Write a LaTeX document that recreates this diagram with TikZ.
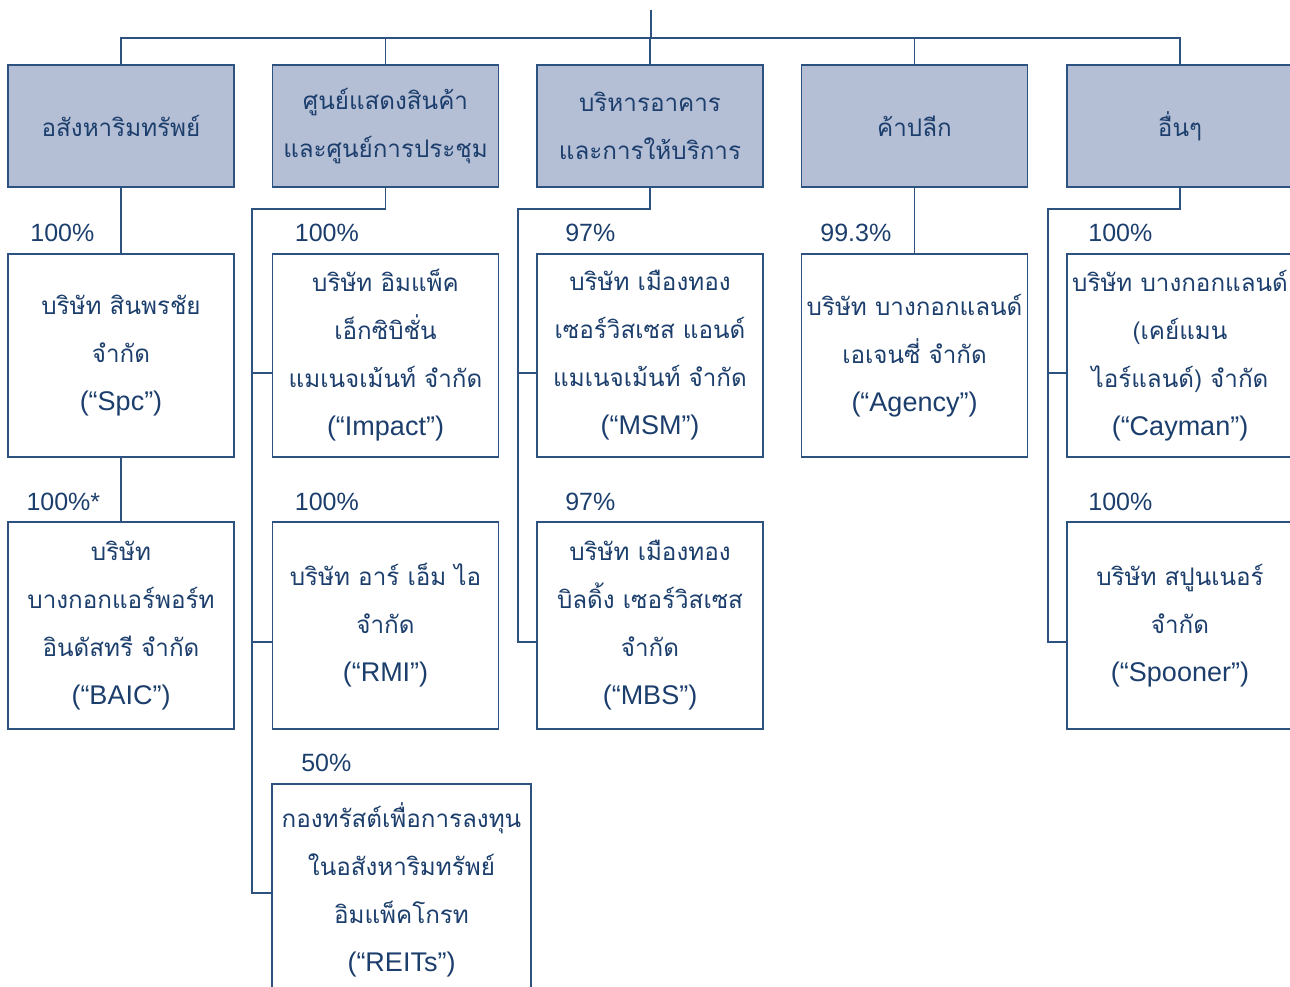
\documentclass[tikz,border=0pt]{standalone}
\usepackage{fontspec}
\setmainfont{Liberation Sans}
\newfontfamily\thaifont[Script=Thai]{Loma}
\usetikzlibrary{positioning}
\definecolor{navy}{RGB}{28,62,108}
\definecolor{linecol}{RGB}{45,82,128}
\definecolor{headfill}{RGB}{180,191,214}
\newcommand{\en}[1]{{\normalfont\fontsize{27}{48}\selectfont #1}}

\begin{document}
\begin{tikzpicture}[x=1pt,y=-1pt,
    every node/.style={text=navy},
    box/.style={draw=linecol, line width=1.3pt, rectangle, minimum width=226pt,
      align=center, inner sep=0pt, font=\thaifont\fontsize{24.2}{48}\selectfont},
    head/.style={box, fill=headfill, minimum height=122pt},
    pct/.style={inner sep=0pt, font=\fontsize{25}{28}\selectfont},
    link/.style={draw=linecol, line width=1.3pt}]
  \useasboundingbox (0,0) rectangle (1290,986);

  % Header row (business groups)
  \node[head] (hRealEstate) at (121,126) {อสังหาริมทรัพย์};
  \node[head] (hExhibit) at (385.5,126) {ศูนย์แสดงสินค้า\\และศูนย์การประชุม};
  \node[head] (hService) at (650,126) {บริหารอาคาร\\และการให้บริการ};
  \node[head] (hRetail) at (914.5,126) {ค้าปลีก};
  \node[head] (hOther) at (1180,126) {อื่นๆ};

  % First row of companies
  \node[box, minimum height=203pt] (spc) at (121,355.5) {บริษัท สินพรชัย\\จำกัด\\\en{(“Spc”)}};
  \node[box, minimum height=203pt] (impact) at (385.5,355.5) {บริษัท อิมแพ็ค\\เอ็กซิบิชั่น\\แมเนจเม้นท์ จำกัด\\\en{(“Impact”)}};
  \node[box, minimum height=203pt] (msm) at (650,355.5) {บริษัท เมืองทอง\\เซอร์วิสเซส แอนด์\\แมเนจเม้นท์ จำกัด\\\en{(“MSM”)}};
  \node[box, minimum height=203pt] (agency) at (914.5,355.5) {บริษัท บางกอกแลนด์\\เอเจนซี่ จำกัด\\\en{(“Agency”)}};
  \node[box, minimum height=203pt] (cayman) at (1180,355.5) {บริษัท บางกอกแลนด์\\(เคย์แมน\\ไอร์แลนด์) จำกัด\\\en{(“Cayman”)}};

  % Second row of companies
  \node[box, minimum height=207pt] (baic) at (121,625.5) {บริษัท\\บางกอกแอร์พอร์ท\\อินดัสทรี จำกัด\\\en{(“BAIC”)}};
  \node[box, minimum height=207pt] (rmi) at (385.5,625.5) {บริษัท อาร์ เอ็ม ไอ\\จำกัด\\\en{(“RMI”)}};
  \node[box, minimum height=207pt] (mbs) at (650,625.5) {บริษัท เมืองทอง\\บิลดิ้ง เซอร์วิสเซส\\จำกัด\\\en{(“MBS”)}};
  \node[box, minimum height=207pt] (spooner) at (1180,625.5) {บริษัท สปูนเนอร์\\จำกัด\\\en{(“Spooner”)}};

  % Third row (trust)
  \node[box, minimum width=259pt, minimum height=212pt] (reits) at (401.5,890) {กองทรัสต์เพื่อการลงทุน\\ในอสังหาริมทรัพย์\\อิมแพ็คโกรท\\\en{(“REITs”)}};

  % Holding percentages
  \node[pct, above=11pt of spc.north west, xshift=55pt] (pSpc) {100\%};
  \node[pct, above=11pt of impact.north west, xshift=55pt] (pImpact) {100\%};
  \node[pct, above=11pt of msm.north west, xshift=54pt] (pMsm) {97\%};
  \node[pct, above=11pt of agency.north west, xshift=55pt] (pAgency) {99.3\%};
  \node[pct, above=11pt of cayman.north west, xshift=54pt] (pCayman) {100\%};
  \node[pct, above=10pt of baic.north west, xshift=56pt] (pBaic) {100\%*};
  \node[pct, above=10pt of rmi.north west, xshift=55pt] (pRmi) {100\%};
  \node[pct, above=10pt of mbs.north west, xshift=54pt] (pMbs) {97\%};
  \node[pct, above=10pt of spooner.north west, xshift=54pt] (pSpooner) {100\%};
  \node[pct, above=11pt of reits.north west, xshift=55pt] (pReits) {50\%};

  % Connectors
  \coordinate (top) at (651,10);
  \coordinate (bus) at (651,38);
  \coordinate (rowA) at (0,373);
  \coordinate (rowB) at (0,642);
  \coordinate (rowC) at (0,893);
  \coordinate (exSpine) at (252,209);
  \coordinate (svSpine) at (518,209);
  \coordinate (otSpine) at (1048,209);

  \draw[link] (top) -- (bus);
  \draw[link] (hRealEstate.north) |- (bus) -| (hOther.north);
  \foreach \h in {hExhibit,hService,hRetail}
    \draw[link] (\h.north) -- (\h.north |- bus);

  \draw[link] (hRealEstate.south) -- (spc.north);
  \draw[link] (spc.south) -- (baic.north);
  \draw[link] (hRetail.south) -- (agency.north);

  \draw[link] (hExhibit.south) |- (exSpine) -- (exSpine |- rowC) -- (reits.west |- rowC);
  \draw[link] (exSpine |- rowA) -- (impact.west |- rowA);
  \draw[link] (exSpine |- rowB) -- (rmi.west |- rowB);

  \draw[link] (hService.south) |- (svSpine) -- (svSpine |- rowB) -- (mbs.west |- rowB);
  \draw[link] (svSpine |- rowA) -- (msm.west |- rowA);

  \draw[link] (hOther.south) |- (otSpine) -- (otSpine |- rowB) -- (spooner.west |- rowB);
  \draw[link] (otSpine |- rowA) -- (cayman.west |- rowA);
\end{tikzpicture}
\end{document}
